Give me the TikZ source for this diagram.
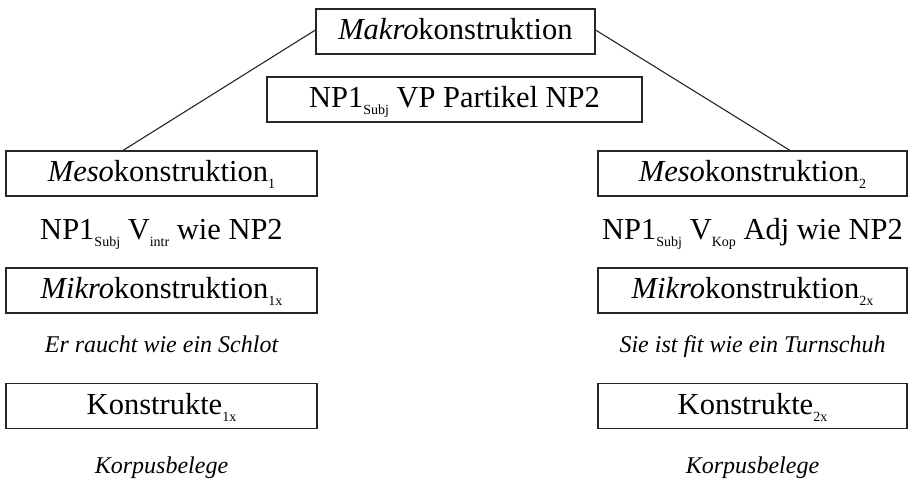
\documentclass[tikz,border=0pt]{standalone}
\usepackage{fontspec}
\setmainfont{Liberation Serif}
\newcommand{\sbx}[1]{\raisebox{-0.5ex}{\fontsize{14}{14}\selectfont #1}}
\tikzset{
  lbl/.style={font=\fontsize{30.5}{34}\selectfont, inner sep=0pt, anchor=center, text height=21pt, text depth=5pt},
  exl/.style={font=\fontsize{24}{28}\selectfont\itshape, inner sep=0pt, anchor=center, text height=17pt, text depth=5pt},
  ebox/.style={draw=black!85, line width=1.1pt, minimum height=45pt, inner sep=0pt, text height=21pt, text depth=5pt, font=\fontsize{30.5}{34}\selectfont},
  conn/.style={draw=black!85, line width=1.1pt}
}
\begin{document}
\begin{tikzpicture}[x=1pt,y=-1pt]
\useasboundingbox (0,0) rectangle (909,480);
\node[ebox, minimum width=279pt] (makro) at (455.5,31.5) {\textit{Makro}konstruktion};
\node[ebox, minimum width=375pt] (np) at (454.5,99.5) {NP1\sbx{Subj} VP Partikel NP2};
\node[ebox, minimum width=311pt] (meso1) at (161.5,173.5) {\textit{Meso}konstruktion\sbx{1}};
\node[ebox, minimum width=309pt] (meso2) at (752.5,173.5) {\textit{Meso}konstruktion\sbx{2}};
\node[lbl] (pat1) at (161.5,231) {NP1\sbx{Subj} V\sbx{intr} wie NP2};
\node[lbl] (pat2) at (752.5,231) {NP1\sbx{Subj} V\sbx{Kop} Adj wie NP2};
\node[ebox, minimum width=311pt] (mikro1) at (161.5,290.5) {\textit{Mikro}konstruktion\sbx{1x}};
\node[ebox, minimum width=309pt] (mikro2) at (752.5,290.5) {\textit{Mikro}konstruktion\sbx{2x}};
\node[exl] (ex1) at (161.5,346) {Er raucht wie ein Schlot};
\node[exl] (ex2) at (752.5,346) {Sie ist fit wie ein Turnschuh};
\node[ebox, minimum width=311pt] (kon1) at (161.5,406) {Konstrukte\sbx{1x}};
\node[ebox, minimum width=309pt] (kon2) at (752.5,406) {Konstrukte\sbx{2x}};
\node[exl] (korp1) at (161.5,467) {Korpusbelege};
\node[exl] (korp2) at (752.5,467) {Korpusbelege};
\draw[conn] ([yshift=1.5pt]makro.west) -- ([xshift=-38.5pt]meso1.north);
\draw[conn] ([yshift=1.5pt]makro.east) -- ([xshift=37.5pt]meso2.north);
\end{tikzpicture}
\end{document}
